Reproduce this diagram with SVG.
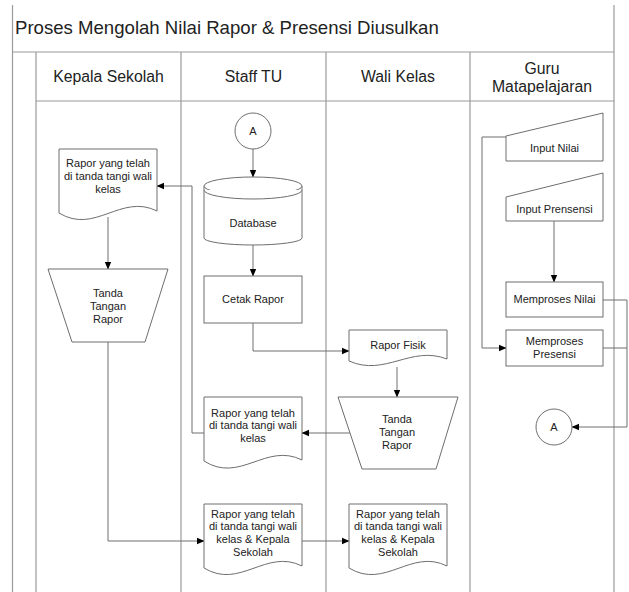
<svg xmlns="http://www.w3.org/2000/svg" width="629" height="592" viewBox="0 0 629 592">
<defs>
<style>
.frame{fill:none;stroke:#9a9a9a;stroke-width:1.2}
.shape{fill:#fff;stroke:#6e6e6e;stroke-width:1}
.conn{fill:none;stroke:#6e6e6e;stroke-width:1}
.t{font-family:"Liberation Sans",Arial,sans-serif;font-size:11px;fill:#222;text-anchor:middle}
.h{font-family:"Liberation Sans",Arial,sans-serif;font-size:15.8px;fill:#222;text-anchor:middle}
.title{font-family:"Liberation Sans",Arial,sans-serif;font-size:18.6px;fill:#222}
</style>
<marker id="arr" markerWidth="8" markerHeight="8" refX="7" refY="4" orient="auto" markerUnits="userSpaceOnUse">
<path d="M0,0.8 L7.5,4 L0,7.2 Z" fill="#000"/>
</marker>
</defs>
<rect width="629" height="592" fill="#fff"/>
<g id="frame">
<line class="frame" x1="12.5" y1="5" x2="12.5" y2="592"/>
<line class="frame" x1="614" y1="5" x2="614" y2="592"/>
<line class="frame" x1="12.5" y1="52" x2="614" y2="52"/>
<line class="frame" x1="36" y1="52" x2="36" y2="592"/>
<line class="frame" x1="181" y1="52" x2="181" y2="592"/>
<line class="frame" x1="326" y1="52" x2="326" y2="592"/>
<line class="frame" x1="470" y1="52" x2="470" y2="592"/>
<line class="frame" x1="36" y1="101" x2="614" y2="101"/>
<text class="title" x="15" y="34">Proses Mengolah Nilai Rapor &amp; Presensi Diusulkan</text>
<text class="h" x="108.5" y="82">Kepala Sekolah</text>
<text class="h" x="253.5" y="82">Staff TU</text>
<text class="h" x="398" y="82">Wali Kelas</text>
<text class="h" x="542" y="73.5">Guru</text>
<text class="h" x="542" y="91.5">Matapelajaran</text>
</g>
<g id="connectors">
<line class="conn" x1="253" y1="149" x2="253" y2="177" marker-end="url(#arr)"/>
<line class="conn" x1="253" y1="245" x2="253" y2="276" marker-end="url(#arr)"/>
<polyline class="conn" points="253,323 253,351 349,351" marker-end="url(#arr)"/>
<line class="conn" x1="397" y1="367" x2="397" y2="397" marker-end="url(#arr)"/>
<line class="conn" x1="350" y1="433" x2="302" y2="433" marker-end="url(#arr)"/>
<polyline class="conn" points="204,433 192,433 192,186 157,186" marker-end="url(#arr)"/>
<line class="conn" x1="108" y1="217" x2="108" y2="269" marker-end="url(#arr)"/>
<polyline class="conn" points="108,342 108,541 204,541" marker-end="url(#arr)"/>
<line class="conn" x1="302" y1="541" x2="349" y2="541" marker-end="url(#arr)"/>
<polyline class="conn" points="506,137 482,137 482,348 506,348" marker-end="url(#arr)"/>
<line class="conn" x1="554" y1="221" x2="554" y2="282" marker-end="url(#arr)"/>
<polyline class="conn" points="603,300 627,300 627,427 572,427" marker-end="url(#arr)"/>
<line class="conn" x1="603" y1="348" x2="627" y2="348"/>
</g>
<g id="conn-a-top">
<circle class="shape" cx="253" cy="131" r="18"/>
<text class="t" x="253" y="135">A</text>
</g>
<g id="database">
<path class="shape" d="M204,186 V238 A49,7 0 0 0 302,238 V186 A49,9 0 0 0 204,186 Z"/>
<path class="shape" d="M204,186 A49,9 0 0 0 302,186" fill="none"/>
<path class="shape" d="M204,190 A49,9 0 0 0 302,190" fill="none"/>
<text class="t" x="253" y="227">Database</text>
</g>
<g id="cetak-rapor">
<rect class="shape" x="204" y="276" width="98" height="47"/>
<text class="t" x="253" y="303">Cetak Rapor</text>
</g>
<g id="doc-kepala">
<path class="shape" d="M59,149 H157 V211 C121,193 95,235 59,213 Z"/>
<text class="t" x="108" y="166.5">Rapor yang telah</text>
<text class="t" x="108" y="179.5">di tanda tangi wali</text>
<text class="t" x="108" y="192.5">kelas</text>
</g>
<g id="ttd-kepala">
<path class="shape" d="M48,269 H168 L145,342 H72 Z"/>
<text class="t" x="108" y="296.5">Tanda</text>
<text class="t" x="108" y="309.5">Tangan</text>
<text class="t" x="108" y="322.5">Rapor</text>
</g>
<g id="doc-staff-1">
<path class="shape" d="M204,397 H302 V460 C266,442 240,484 204,461 Z"/>
<text class="t" x="253" y="416.5">Rapor yang telah</text>
<text class="t" x="253" y="429.3">di tanda tangi wali</text>
<text class="t" x="253" y="442">kelas</text>
</g>
<g id="doc-staff-2">
<path class="shape" d="M204,504 H302 V566 C266,548 240,590 204,568 Z"/>
<text class="t" x="253" y="517.5">Rapor yang telah</text>
<text class="t" x="253" y="530.3">di tanda tangi wali</text>
<text class="t" x="253" y="543.1">kelas &amp; Kepala</text>
<text class="t" x="253" y="555.9">Sekolah</text>
</g>
<g id="rapor-fisik">
<path class="shape" d="M349,330 H447 V359 C411,345 385,377 349,361 Z"/>
<text class="t" x="398" y="349.3">Rapor Fisik</text>
</g>
<g id="ttd-wali">
<path class="shape" d="M338,397 H458 L436,469 H362 Z"/>
<text class="t" x="397" y="423">Tanda</text>
<text class="t" x="397" y="436">Tangan</text>
<text class="t" x="397" y="449">Rapor</text>
</g>
<g id="doc-wali">
<path class="shape" d="M349,504 H447 V566 C411,548 385,590 349,568 Z"/>
<text class="t" x="398" y="517.5">Rapor yang telah</text>
<text class="t" x="398" y="530.3">di tanda tangi wali</text>
<text class="t" x="398" y="543.1">kelas &amp; Kepala</text>
<text class="t" x="398" y="555.9">Sekolah</text>
</g>
<g id="input-nilai">
<path class="shape" d="M506,136 L603,113 V161 H506 Z"/>
<text class="t" x="554.5" y="152.3">Input Nilai</text>
</g>
<g id="input-presensi">
<path class="shape" d="M506,197 L603,173 V221 H506 Z"/>
<text class="t" x="554.5" y="212.7">Input Prensensi</text>
</g>
<g id="memproses-nilai">
<rect class="shape" x="506" y="282" width="97" height="35"/>
<text class="t" x="554.5" y="303.3">Memproses Nilai</text>
</g>
<g id="memproses-presensi">
<rect class="shape" x="506" y="330" width="97" height="36"/>
<text class="t" x="554.5" y="345">Memproses</text>
<text class="t" x="554.5" y="357.8">Presensi</text>
</g>
<g id="conn-a-bottom">
<circle class="shape" cx="554" cy="427" r="18"/>
<text class="t" x="554" y="431">A</text>
</g>
</svg>
